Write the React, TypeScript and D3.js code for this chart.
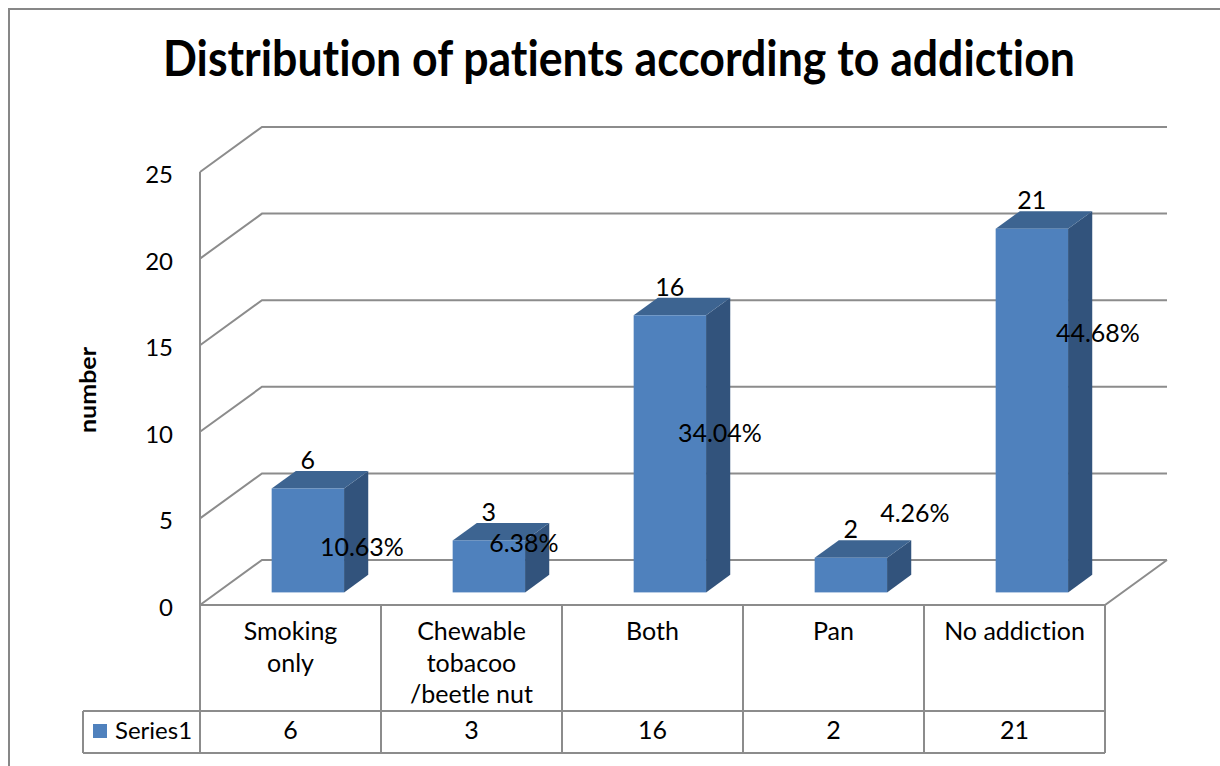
import React from "react";
import * as d3 from "d3";

// Chart data
const categories = ["Smoking only", "Chewable tobacoo /beetle nut", "Both", "Pan", "No addiction"];
const categoryLines = [["Smoking", "only"], ["Chewable", "tobacoo", "/beetle nut"], ["Both"], ["Pan"], ["No addiction"]];
const values = [6, 3, 16, 2, 21];
const percentLabels = ["10.63%", "6.38%", "34.04%", "4.26%", "44.68%"];
const yTicks = [0, 5, 10, 15, 20, 25];
const seriesName = "Series1";
const titleText = "Distribution of patients according to addiction";
const yAxisTitle = "number";

// Layout / style constants
const W = 1220;
const H = 766;
const PLOT_LEFT = 200;
const PLOT_RIGHT = 1105;
const FLOOR_Y = 605;
const TOP_Y = 172;
const DEPTH = { x: 62, y: -45 };
const BAR_DEPTH_FROM = 0.28;
const BAR_DEPTH_TO = 0.67;
const BAR_WIDTH_RATIO = 0.4;
const GRID = "#8c8c8c";
const FRONT = "#4f81bd";
const SIDE = "#32537c";
const TOP = "#3d6491";
const FONT = "Lato, 'Open Sans', sans-serif";
const TABLE_ROW = 711;
const TABLE_BOTTOM = 753;
const LEGEND_LEFT = 83;
// nudges for the percentage labels, relative to each bar's top-front centre
const pctNudge: [number, number][] = [[54, 68], [35, 12], [50, 127], [64, -36], [66, 113]];

const noLigatures: React.CSSProperties = {
  fontVariantLigatures: "none",
  fontFeatureSettings: '"liga" 0, "clig" 0, "dlig" 0, "calt" 0',
};

export default function App() {
  const x = d3.scaleBand<string>().domain(categories).range([PLOT_LEFT, PLOT_RIGHT]).padding(0);
  const y = d3.scaleLinear().domain([0, 25]).range([FLOOR_Y, TOP_Y]);
  const bw = x.bandwidth();
  const barW = bw * BAR_WIDTH_RATIO;
  const off = { x: BAR_DEPTH_FROM * DEPTH.x, y: BAR_DEPTH_FROM * DEPTH.y };
  const dd = { x: (BAR_DEPTH_TO - BAR_DEPTH_FROM) * DEPTH.x, y: (BAR_DEPTH_TO - BAR_DEPTH_FROM) * DEPTH.y };
  const line = d3.line();

  const backRight = PLOT_RIGHT + DEPTH.x;

  return (
    <svg
      width={W}
      height={H}
      style={{ position: "absolute", left: 0, top: 0, background: "#fff", ...noLigatures }}
      fontFamily={FONT}
    >
      <rect x={0} y={0} width={W} height={H} fill="#fff" />
      {/* chart area border */}
      <rect x={9} y={9} width={W + 20} height={H + 20} fill="none" stroke="#878787" strokeWidth={2} />

      {/* title */}
      <text
        x={619}
        y={76}
        textAnchor="middle"
        fontSize={50}
        fontWeight={700}
        fill="#000"
        textLength={912}
        lengthAdjust="spacingAndGlyphs"
        style={noLigatures}
      >
        {titleText}
      </text>

      {/* gridlines: side wall + back wall */}
      {yTicks.map((t) => (
        <path
          key={"g" + t}
          d={line([
            [PLOT_LEFT, y(t)],
            [PLOT_LEFT + DEPTH.x, y(t) + DEPTH.y],
            [backRight, y(t) + DEPTH.y],
          ]) as string}
          fill="none"
          stroke={GRID}
          strokeWidth={2}
        />
      ))}
      {/* floor */}
      <path
        d={line([
          [PLOT_LEFT, y(0)],
          [PLOT_RIGHT, y(0)],
          [backRight, y(0) + DEPTH.y],
        ]) as string}
        fill="none"
        stroke={GRID}
        strokeWidth={2}
      />
      {/* vertical axis */}
      <line x1={PLOT_LEFT} x2={PLOT_LEFT} y1={y(25)} y2={y(0)} stroke={GRID} strokeWidth={2} />

      {/* tick labels */}
      {yTicks.map((t) => (
        <text key={"t" + t} x={173} y={y(t) + 11} textAnchor="end" fontSize={24} fill="#000">
          {t}
        </text>
      ))}
      <text
        transform={`translate(96,390) rotate(-90)`}
        textAnchor="middle"
        fontSize={23}
        fontWeight={700}
        fill="#000"
        textLength={86}
        lengthAdjust="spacingAndGlyphs"
      >
        {yAxisTitle}
      </text>

      {/* 3D bars */}
      {categories.map((c, i) => {
        const v = values[i];
        const fx = (x(c) as number) + bw / 2 - barW / 2 + off.x;
        const fy0 = y(0) + off.y;
        const fy1 = y(v) + off.y;
        const side = [
          [fx + barW, fy1],
          [fx + barW + dd.x, fy1 + dd.y],
          [fx + barW + dd.x, fy0 + dd.y],
          [fx + barW, fy0],
        ] as [number, number][];
        const top = [
          [fx, fy1],
          [fx + dd.x, fy1 + dd.y],
          [fx + barW + dd.x, fy1 + dd.y],
          [fx + barW, fy1],
        ] as [number, number][];
        return (
          <g key={"b" + i}>
            <path d={(line(side) as string) + "Z"} fill={SIDE} />
            <path d={(line(top) as string) + "Z"} fill={TOP} />
            <rect x={fx} y={fy1} width={barW} height={fy0 - fy1} fill={FRONT} />
          </g>
        );
      })}

      {/* value and percentage labels */}
      {categories.map((c, i) => {
        const v = values[i];
        const cx = (x(c) as number) + bw / 2 + off.x;
        const fy1 = y(v) + off.y;
        return (
          <g key={"l" + i} fontSize={25} fill="#000">
            <text x={cx} y={fy1 + dd.y - 2} textAnchor="middle">
              {v}
            </text>
            <text x={cx + pctNudge[i][0]} y={fy1 + pctNudge[i][1]} textAnchor="middle">
              {percentLabels[i]}
            </text>
          </g>
        );
      })}

      {/* data table */}
      <g stroke={GRID} strokeWidth={2} fill="none">
        <line x1={PLOT_LEFT} x2={PLOT_RIGHT} y1={TABLE_ROW} y2={TABLE_ROW} />
        <line x1={LEGEND_LEFT} x2={PLOT_LEFT} y1={TABLE_ROW} y2={TABLE_ROW} />
        <line x1={LEGEND_LEFT} x2={PLOT_RIGHT} y1={TABLE_BOTTOM} y2={TABLE_BOTTOM} />
        <line x1={LEGEND_LEFT} x2={LEGEND_LEFT} y1={TABLE_ROW} y2={TABLE_BOTTOM} />
        {categories.map((c) => (
          <line key={"v" + c} x1={x(c)} x2={x(c)} y1={FLOOR_Y} y2={TABLE_BOTTOM} />
        ))}
        <line x1={PLOT_RIGHT} x2={PLOT_RIGHT} y1={FLOOR_Y} y2={TABLE_BOTTOM} />
      </g>
      {categories.map((c, i) => (
        <g key={"c" + i} fontSize={25} fill="#000" textAnchor="middle">
          {categoryLines[i].map((ln, j) => (
            <text key={j} x={(x(c) as number) + bw / 2} y={640 + j * 31.5}>
              {ln}
            </text>
          ))}
          <text x={(x(c) as number) + bw / 2} y={739}>
            {values[i]}
          </text>
        </g>
      ))}
      <rect x={93} y={724} width={14} height={14} fill={FRONT} />
      <text x={115} y={739} fontSize={24} fill="#000">
        {seriesName}
      </text>
    </svg>
  );
}
